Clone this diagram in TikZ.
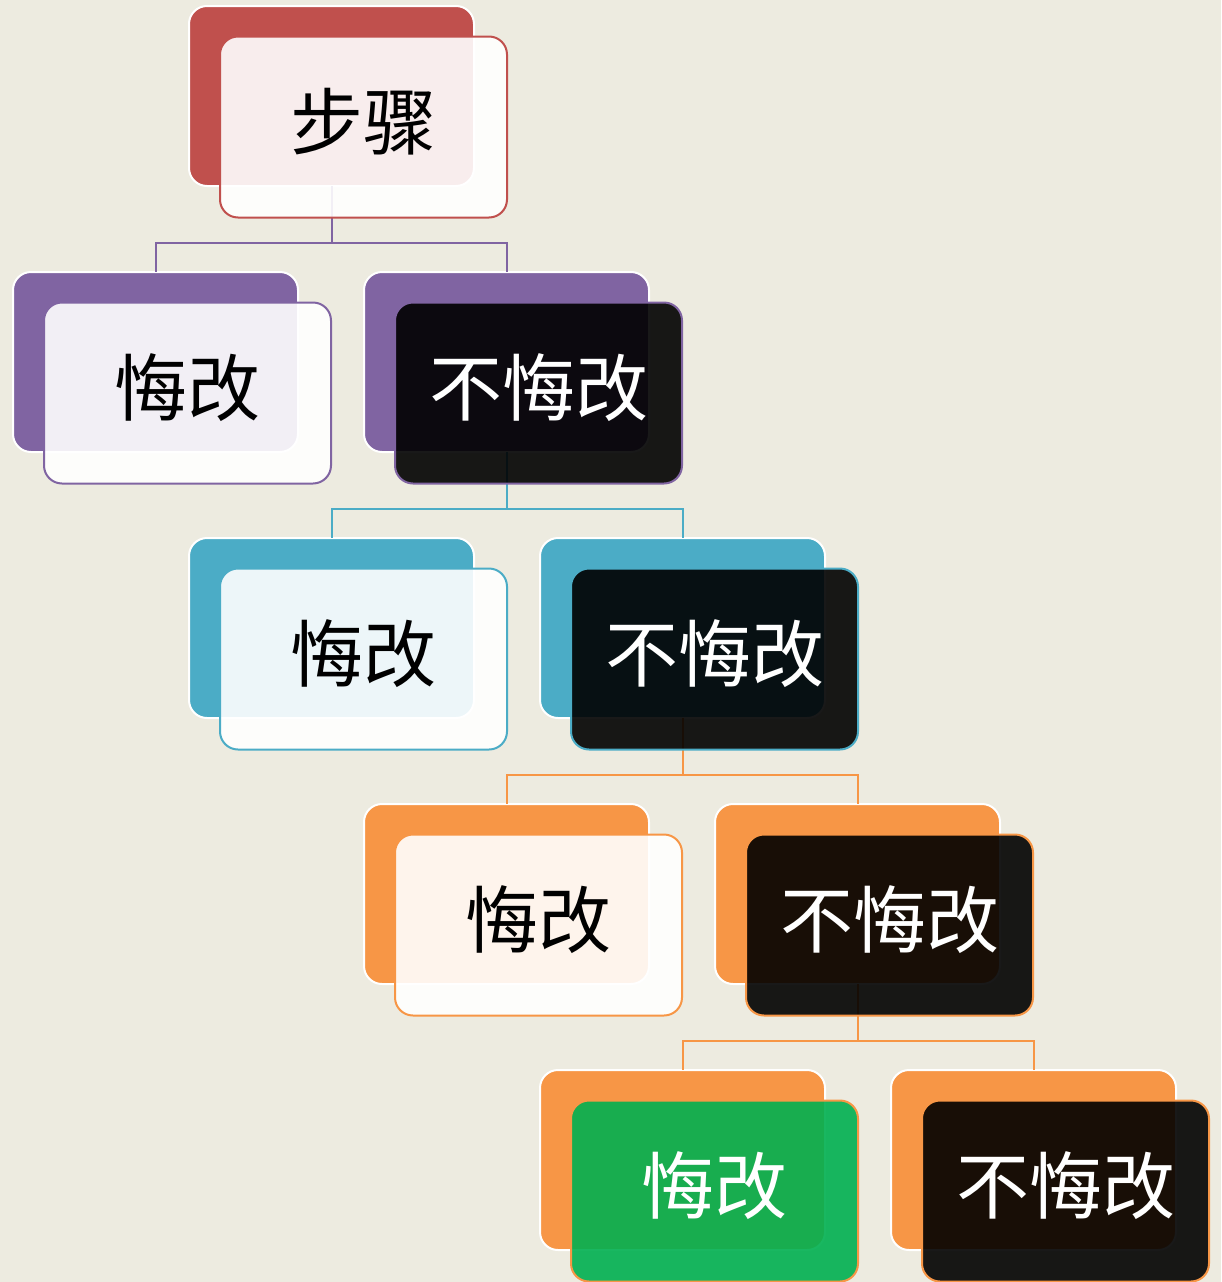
\documentclass[tikz,border=0pt]{standalone}
\usepackage{fontspec}
\newfontfamily\cjk{Noto Sans CJK SC}
\definecolor{bgc}{HTML}{EDEBE0}
\definecolor{cred}{HTML}{C0504D}
\definecolor{cpurple}{HTML}{8064A2}
\definecolor{cblue}{HTML}{4BACC6}
\definecolor{corange}{HTML}{F79646}
\definecolor{cgreen}{HTML}{00B050}
\tikzset{
  backbox/.style={draw=white, fill=#1, line width=2pt, rounded corners=18pt,
    minimum width=285pt, minimum height=180pt, inner sep=0pt, outer sep=0pt},
  frontbox/.style={draw=#1, line width=2pt, rounded corners=18pt,
    minimum width=287pt, minimum height=181pt, inner sep=0pt, outer sep=0pt,
    fill opacity=0.9},
  lightf/.style={frontbox=#1, fill=white},
  darkf/.style={frontbox=#1, fill=black},
  greenf/.style={frontbox=#1, fill=cgreen},
  lbl/.style={inner sep=0pt, text=#1, font=\cjk\fontsize{73}{80}\selectfont},
  conn/.style={draw=#1, line width=2pt},
}
\begin{document}
\begin{tikzpicture}[x=1pt,y=-1pt]
\fill[bgc] (0,0) rectangle (1221,1282);
\useasboundingbox (0,0) rectangle (1221,1282);
% back boxes
\node[backbox=cred]    (b0)  at (331.5,96) {};
\node[backbox=cpurple] (b1l) at (155.5,362) {};
\node[backbox=cpurple] (b1r) at (506.5,362) {};
\node[backbox=cblue]   (b2l) at (331.5,628) {};
\node[backbox=cblue]   (b2r) at (682.5,628) {};
\node[backbox=corange] (b3l) at (506.5,894) {};
\node[backbox=corange] (b3r) at (857.5,894) {};
\node[backbox=corange] (b4l) at (682.5,1160) {};
\node[backbox=corange] (b4r) at (1033.5,1160) {};
% connectors
\draw[conn=cpurple] (b0.south) -- ++(0,57) -| (b1l.north);
\draw[conn=cpurple] (b0.south) -- ++(0,57) -| (b1r.north);
\draw[conn=cblue] (b1r.south) -- ++(0,57) -| (b2l.north);
\draw[conn=cblue] (b1r.south) -- ++(0,57) -| (b2r.north);
\draw[conn=corange] (b2r.south) -- ++(0,57) -| (b3l.north);
\draw[conn=corange] (b2r.south) -- ++(0,57) -| (b3r.north);
\draw[conn=corange] (b3r.south) -- ++(0,57) -| (b4l.north);
\draw[conn=corange] (b3r.south) -- ++(0,57) -| (b4r.north);
% front boxes
\node[lightf=cred]    (f0)  at ([shift={(32,31)}]b0.center)  {};
\node[lightf=cpurple] (f1l) at ([shift={(32,31)}]b1l.center) {};
\node[darkf=cpurple]  (f1r) at ([shift={(32,31)}]b1r.center) {};
\node[lightf=cblue]   (f2l) at ([shift={(32,31)}]b2l.center) {};
\node[darkf=cblue]    (f2r) at ([shift={(32,31)}]b2r.center) {};
\node[lightf=corange] (f3l) at ([shift={(32,31)}]b3l.center) {};
\node[darkf=corange]  (f3r) at ([shift={(32,31)}]b3r.center) {};
\node[greenf=corange] (f4l) at ([shift={(32,31)}]b4l.center) {};
\node[darkf=corange]  (f4r) at ([shift={(32,31)}]b4r.center) {};
% labels
\node[lbl=black] (t0)  at ([yshift=5pt]f0.center)  {步骤};
\node[lbl=black] (t1l) at ([yshift=5pt]f1l.center) {悔改};
\node[lbl=white] (t1r) at ([yshift=5pt]f1r.center) {不悔改};
\node[lbl=black] (t2l) at ([yshift=5pt]f2l.center) {悔改};
\node[lbl=white] (t2r) at ([yshift=5pt]f2r.center) {不悔改};
\node[lbl=black] (t3l) at ([yshift=5pt]f3l.center) {悔改};
\node[lbl=white] (t3r) at ([yshift=5pt]f3r.center) {不悔改};
\node[lbl=white] (t4l) at ([yshift=5pt]f4l.center) {悔改};
\node[lbl=white] (t4r) at ([yshift=5pt]f4r.center) {不悔改};
\end{tikzpicture}
\end{document}
